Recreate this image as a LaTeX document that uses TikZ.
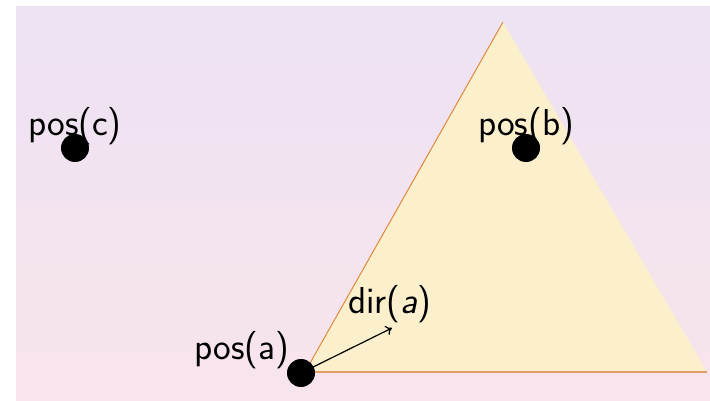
\documentclass[tikz,border=0pt]{standalone}
\usetikzlibrary{arrows.meta}
\definecolor{bgtop}{HTML}{EDE3F3}
\definecolor{bgbot}{HTML}{F8E4EC}
\definecolor{trifill}{HTML}{FBEFCC}
\definecolor{edgeL}{HTML}{E0893C}
\definecolor{edgeB}{HTML}{E2A066}
\tikzset{
  dot/.style={circle,fill=black,inner sep=0pt,minimum size=28pt},
  lbl/.style={font=\fontsize{37.5}{44}\selectfont\sffamily,inner sep=0pt}
}
\begin{document}
\begin{tikzpicture}[x=1pt,y=-1pt]
\useasboundingbox (0,0) rectangle (710,401);
\shade[top color=bgtop,bottom color=bgbot] (16,7) rectangle (710,401);
\coordinate (p1) at (305,372);
\coordinate (p2) at (503,22);
\coordinate (p3) at (707,372);
\fill[trifill] (p1) -- (p2) -- (p3) -- cycle;
\draw[edgeL,line width=1pt] (p1) -- (p2);
\draw[edgeB,line width=2pt] (p1) -- (p3);
\node[dot] (a) at (301,373) {};
\node[dot] (b) at (526,148) {};
\node[dot] (c) at (75,148) {};
\node[lbl] (la) at (242,350) {pos(a)};
\node[lbl] (lb) at (526,126) {pos(b)};
\node[lbl] (lc) at (75,126) {pos(c)};
\node[lbl] (ld) at (390,304) {dir(\textit{a})};
\coordinate (dirend) at (392,328);
\draw[-{To[length=6pt,width=10pt]},line width=1.2pt] (a.center) -- (dirend);
\end{tikzpicture}
\end{document}
